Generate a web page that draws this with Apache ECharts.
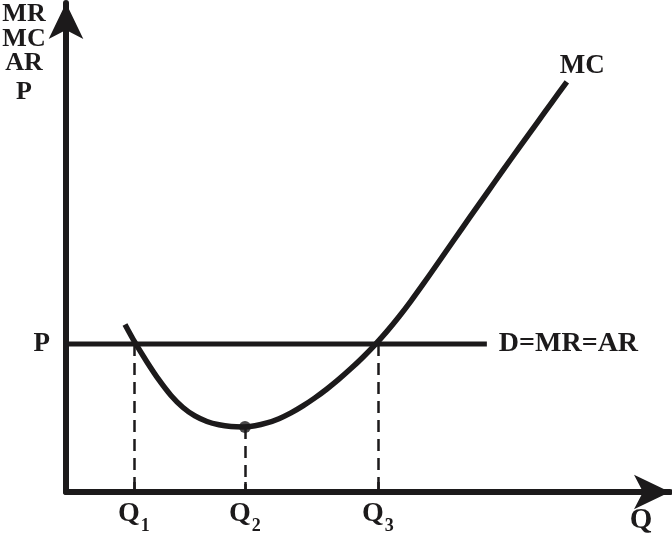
<!DOCTYPE html>
<html><head><meta charset="utf-8">
<script src="https://cdn.jsdelivr.net/npm/echarts@6/dist/echarts.min.js"></script>
<style>html,body{margin:0;padding:0;background:#fff}#c{width:672px;height:542px}</style>
</head><body><div id="c"></div>
<script>
// Quantities (x) and price level (y), in chart units
const qLabels = ['Q1', 'Q2', 'Q3'];
const qValues = [11.6, 30.55, 53.24];
const priceP = 31.42;
const demandEnd = 71.84;
const mcMin = 13.8;
const mcX = [10.07, 11.77, 13.82, 15.87, 17.92, 19.97, 22.01, 24.06, 26.11, 28.16, 30.2, 32.25, 34.3, 36.35, 38.4, 40.44, 42.49, 44.54, 46.59, 48.63, 50.68, 52.73, 54.78, 56.83, 58.87, 60.92, 63.31, 66.04, 68.94, 71.84, 74.57, 77.47, 80.38, 82.94, 85.49];
const mcY = [35.56, 31.74, 27.6, 23.78, 20.49, 17.94, 16.14, 14.97, 14.27, 13.89, 13.8, 14.06, 14.65, 15.56, 16.79, 18.28, 19.98, 21.87, 23.95, 26.2, 28.62, 31.25, 34.1, 37.2, 40.53, 44.06, 48.3, 53.18, 58.34, 63.46, 68.26, 73.31, 78.32, 82.72, 87.07];
const yTitle = ['MR', 'MC', 'AR', 'P'];

const INK = '#1c1a1b';
const FONT = '"Liberation Serif", "DejaVu Serif", serif';

const chart = echarts.init(document.getElementById('c'), null, {renderer: 'canvas'});
const mcData = mcX.map((x, i) => [x, mcY[i]]);
const subMap = {Q1: '1', Q2: '2', Q3: '3'};
const titleMid = [14, 39, 63.5, 92.5];

chart.setOption({
  animation: false,
  backgroundColor: '#fff',
  grid: {left: 66, right: 2, top: 3, bottom: 50},
  xAxis: {
    type: 'value', min: 0, max: 103.1,
    splitLine: {show: false},
    axisLine: {show: true, onZero: false, symbol: ['none', 'arrow'], symbolSize: [26, 36], lineStyle: {color: INK, width: 6}},
    axisTick: {show: true, inside: true, length: 10, customValues: qValues, lineStyle: {color: INK, width: 2.5}},
    axisLabel: {
      show: true, customValues: qValues, margin: 6,
      formatter: v => { const i = qValues.indexOf(v); const l = qLabels[i] || ''; return '{q|Q}{s|' + subMap[l] + '}'; },
      rich: {
        q: {fontFamily: FONT, fontWeight: 'bold', fontSize: 28, color: INK, verticalAlign: 'bottom', lineHeight: 30},
        s: {fontFamily: FONT, fontWeight: 'bold', fontSize: 18, color: INK, verticalAlign: 'bottom', lineHeight: 30, padding: [0, 0, -7, 1]}
      }
    }
  },
  yAxis: {
    type: 'value', min: 0, max: 103.8,
    splitLine: {show: false},
    axisLine: {show: true, onZero: false, symbol: ['none', 'arrow'], symbolSize: [26, 36], lineStyle: {color: INK, width: 6}},
    axisTick: {show: false},
    axisLabel: {show: true, customValues: [priceP], margin: 16, formatter: () => 'P', fontFamily: FONT, fontWeight: 'bold', fontSize: 27, color: INK}
  },
  graphic: yTitle.map((t, i) => ({
    type: 'text', x: 24, y: titleMid[i],
    style: {text: t, fontFamily: FONT, fontWeight: 'bold', fontSize: 26, fill: INK, align: 'center', verticalAlign: 'middle'}
  })).concat([
    {type: 'text', x: 641, y: 521, style: {text: 'Q', fontFamily: FONT, fontWeight: 'bold', fontSize: 29, fill: INK, align: 'center', verticalAlign: 'middle'}}
  ]),
  series: [
    {
      type: 'line', data: [[0, priceP], [demandEnd, priceP]], symbol: 'none',
      lineStyle: {color: INK, width: 5}, z: 3,
      endLabel: {show: true, formatter: 'D=MR=AR', fontFamily: FONT, fontWeight: 'bold', fontSize: 28, color: INK, distance: 12},
      markLine: {
        silent: true, symbol: 'none',
        lineStyle: {color: INK, width: 2.5, type: [12, 7]},
        label: {show: false},
        data: [
          [{coord: [qValues[0], priceP]}, {coord: [qValues[0], 0]}],
          [{coord: [qValues[1], mcMin]}, {coord: [qValues[1], 0]}],
          [{coord: [qValues[2], priceP]}, {coord: [qValues[2], 0]}]
        ]
      }
    },
    {
      type: 'line', data: mcData, smooth: 0.3, symbol: 'none',
      lineStyle: {color: INK, width: 5.5, cap: 'butt', join: 'round'}, z: 4,
      endLabel: {show: true, formatter: 'MC', fontFamily: FONT, fontWeight: 'bold', fontSize: 27, color: INK, offset: [-15, -16]}
    },
    {
      type: 'scatter', data: [[qValues[1], mcMin]], symbol: 'circle', symbolSize: 12,
      itemStyle: {color: INK}, z: 5
    }
  ]
});
</script></body></html>
